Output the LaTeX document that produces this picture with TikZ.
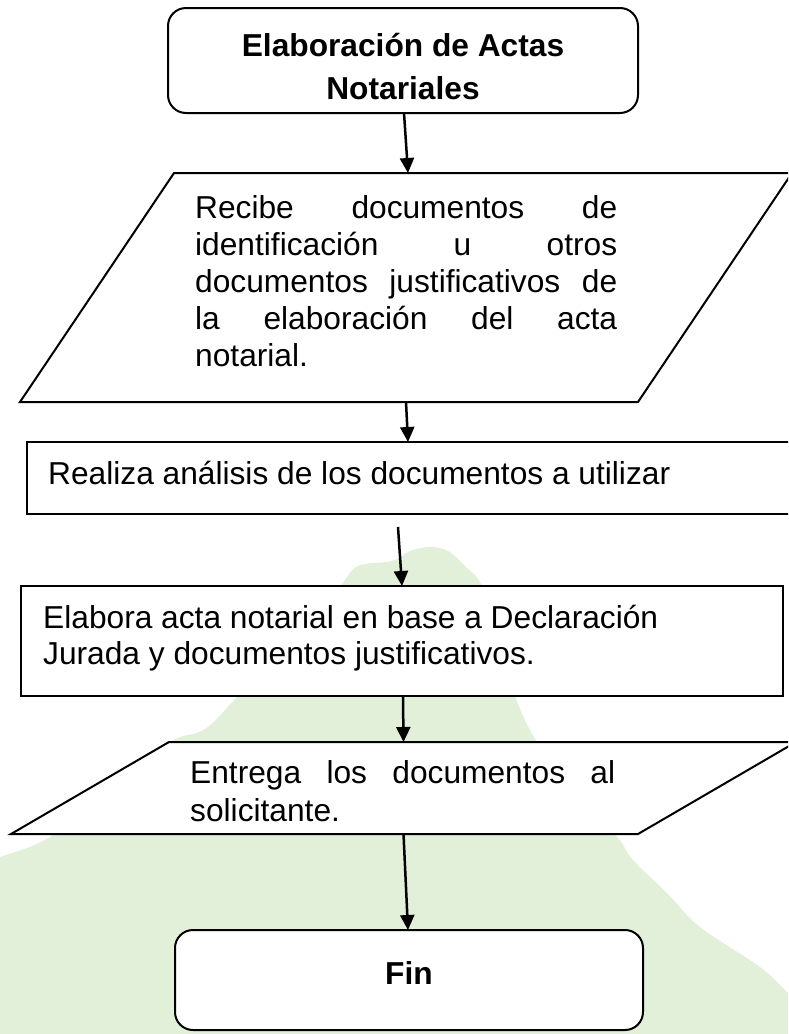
\documentclass[tikz,border=0pt]{standalone}
\usepackage{fontspec}
\setmainfont{Liberation Sans}
\usetikzlibrary{arrows.meta}
\definecolor{bggreen}{RGB}{226,240,217}
\begin{document}
\begin{tikzpicture}[x=1pt,y=-1pt,
  shapeline/.style={draw=black, line width=2pt, fill=white},
  boxnode/.style={shapeline, inner sep=0pt, outer sep=0pt},
  ghost/.style={inner sep=0pt, outer sep=0pt, draw=none},
  arr/.style={draw=black, line width=2.5pt, -{Triangle[length=15pt,width=14pt]}},
  txt/.style={inner sep=0pt, anchor=base west, font=\fontsize{31.7}{37}\selectfont},
  ttl/.style={inner sep=0pt, anchor=base, font=\bfseries\fontsize{31.7}{37}\selectfont}]
\useasboundingbox (0,0) rectangle (788,1034);
\clip (0,0) rectangle (788,1034);
% background shape
\fill[bggreen] plot[smooth, tension=0.6] coordinates {
  (-10,862) (0,857) (50,837) (120,785) (170,742) (205,729) (237,697) (300,630)
  (340,586) (358,566) (392,561) (410,551) (430,547) (448,551) (465,566) (482,586)
  (500,640) (515,696) (537,742) (580,800) (617,837) (633,860) (667,893) (700,927)
  (760,967) (788,993) (800,1005)} -- (800,1040) -- (-10,1040) -- cycle;

% start
\node[boxnode, rounded corners=18pt, minimum width=470pt, minimum height=105pt] (start) at (403,60.5) {};
\node[ttl] (startA) at (403,56) {Elaboración de Actas};
\node[ttl] (startB) at (403,99) {Notariales};

% receive (parallelogram)
\node[ghost, minimum width=772pt, minimum height=229pt] (recv) at (406,287.5) {};
\draw[shapeline] ([xshift=154pt]recv.north west) -- (recv.north east)
  -- ([xshift=-154pt]recv.south east) -- (recv.south west) -- cycle;
\node[txt] (recv1) at (195,218) {\makebox[422pt][s]{Recibe documentos de}};
\node[txt] (recv2) at (195,255) {\makebox[422pt][s]{identificación u otros}};
\node[txt] (recv3) at (195,292) {\makebox[422pt][s]{documentos justificativos de}};
\node[txt] (recv4) at (195,329) {\makebox[422pt][s]{la elaboración del acta}};
\node[txt] (recv5) at (195,366) {notarial.};

% analyze
\node[boxnode, minimum width=773pt, minimum height=72pt] (analyze) at (413.5,478) {};
\node[txt] (analyzeT) at (48,484) {Realiza análisis de los documentos a utilizar};

% draft
\node[boxnode, minimum width=762pt, minimum height=110pt] (draft) at (402,641) {};
\node[txt] (draft1) at (43,628) {Elabora acta notarial en base a Declaración};
\node[txt] (draft2) at (43,664) {Jurada y documentos justificativos.};

% deliver (parallelogram)
\node[ghost, minimum width=785pt, minimum height=92pt] (deliver) at (403.5,788) {};
\draw[shapeline] ([xshift=158pt]deliver.north west) -- (deliver.north east)
  -- ([xshift=-158pt]deliver.south east) -- (deliver.south west) -- cycle;
\node[txt] (deliver1) at (190,783) {\makebox[425pt][s]{Entrega los documentos al}};
\node[txt] (deliver2) at (190,821) {solicitante.};

% end
\node[boxnode, rounded corners=18pt, minimum width=468pt, minimum height=100pt] (finbox) at (409,980) {};
\node[ttl] (finT) at (409,984) {Fin};

% connectors
\coordinate (a3) at (398,527);
\draw[arr] ([xshift=1pt]start.south) -- ([xshift=2pt]recv.north);
\draw[arr] (recv.south) -- ([xshift=-5.5pt]analyze.north);
\draw[arr] (a3) -- (draft.north);
\draw[arr] ([xshift=1pt]draft.south) -- (deliver.north);
\draw[arr] (deliver.south) -- ([xshift=-1pt]finbox.north);
\end{tikzpicture}
\end{document}
